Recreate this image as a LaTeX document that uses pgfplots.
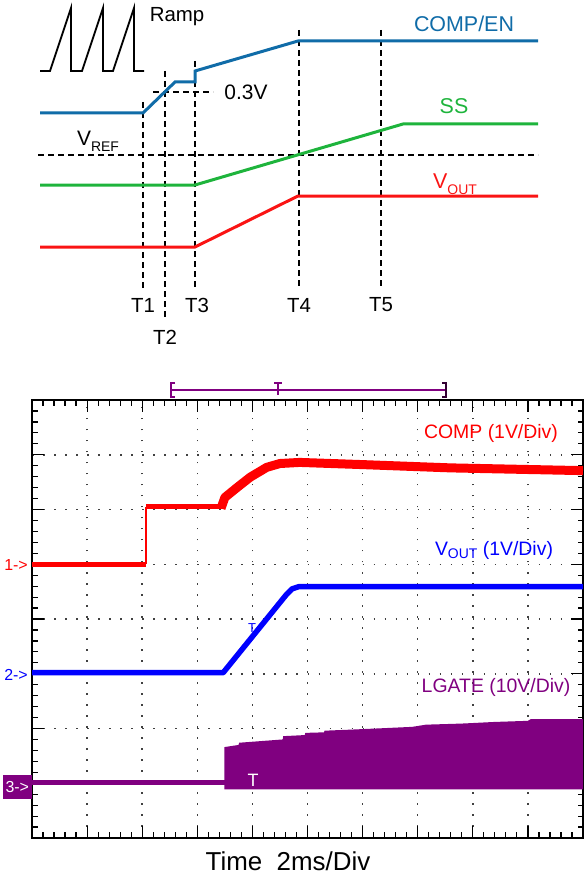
\documentclass[border=0pt]{standalone}
\usepackage{pgfplots}
\pgfplotsset{compat=1.18}
\usepackage{fontspec}
\setmainfont{Liberation Sans}
\definecolor{tblue}{RGB}{16,108,168}
\definecolor{tgreen}{RGB}{30,180,60}
\definecolor{tred}{RGB}{250,20,20}
\definecolor{spurple}{RGB}{128,0,128}
\definecolor{sred}{RGB}{255,0,0}
\definecolor{sblue}{RGB}{0,0,255}
\newcommand{\fs}[1]{\fontsize{#1}{#1}\selectfont}
\newcommand{\sub}[1]{\raisebox{-0.28em}{\fs{14}#1}}
\begin{document}
\begin{tikzpicture}
\useasboundingbox (0,0) rectangle (584bp,875bp);
% ---------------- oscilloscope capture ----------------
\begin{axis}[at={(32bp,37bp)}, anchor=south west, scale only axis,
  width=551bp, height=438bp, xmin=0, xmax=10, ymin=0, ymax=8,
  xtick={0,...,10}, ytick={0,...,8}, minor x tick num=4, minor y tick num=4,
  xticklabels={}, yticklabels={}, tick align=inside,
  major tick length=12bp, minor tick length=5.5bp,
  every tick/.style={black, line width=1.2bp},
  axis line style={line width=1.6bp},
  grid=major,
  major grid style={black!75, line width=1.5bp, dash pattern=on 1.5bp off 9.52bp}]
% COMP (red)
\addplot[sred, line width=5bp] coordinates {(0,5.0)(2.07,5.0)};
\addplot[sred, line width=1.5bp] coordinates {(2.07,5.0)(2.07,6.05)};
\addplot[sred, line width=5bp] coordinates {(2.07,6.05)(3.45,6.05)};
\addplot[sred, line width=9bp, line join=round] coordinates {(3.43,6.02)(3.50,6.22)(3.72,6.40)(3.96,6.59)(4.26,6.77)(4.50,6.84)(4.86,6.86)(6.0,6.82)(7.6,6.76)(10,6.71)};
% VOUT (blue)
\addplot[sblue, line width=5.5bp, line join=round] coordinates {(0,3.02)(3.47,3.02)(4.62,4.45)(4.72,4.55)(4.84,4.59)(10,4.59)};
% LGATE (purple)
\addplot[spurple, line width=5bp] coordinates {(0,1.02)(3.50,1.02)};
\addplot[fill=spurple, draw=none] coordinates {(3.49,0.89)(3.49,1.66)(3.75,1.70)(3.76,1.74)(4.55,1.80)(4.56,1.86)(4.95,1.88)(4.96,1.92)(5.30,1.93)(5.31,1.96)(5.80,1.98)(6.25,2.00)(6.90,2.03)(7.15,2.07)(7.80,2.09)(8.40,2.12)(9.00,2.14)(9.05,2.17)(10,2.17)(10,0.89)} -- cycle;
\end{axis}
% ---------------- overlay in pixel coordinates ----------------
\begin{axis}[at={(0,0)}, anchor=south west, scale only axis,
  width=584bp, height=875bp, xmin=0, xmax=584, ymin=0, ymax=875,
  y dir=reverse, hide axis, clip=false]
% ramp symbol
\addplot[black, line width=1.8bp] coordinates {(40,71)(50,71)(71,8)(71,71)(82,71)(103,8)(103,71)(113,71)(134,8)(134,71)(144,71)};
% dashed guides
\addplot[black, line width=1.8bp, dash pattern=on 6bp off 4bp] coordinates {(38,155)(538,155)};
\addplot[black, line width=1.8bp, dash pattern=on 6bp off 4bp] coordinates {(153,92)(213,92)};
\addplot[black, line width=1.8bp, dash pattern=on 6bp off 4bp] coordinates {(143,102)(143,288)};
\addplot[black, line width=1.8bp, dash pattern=on 6bp off 4bp] coordinates {(165,71)(165,320)};
\addplot[black, line width=1.8bp, dash pattern=on 6bp off 4bp] coordinates {(195,61)(195,288)};
\addplot[black, line width=1.8bp, dash pattern=on 6bp off 4bp] coordinates {(299,30)(299,288)};
\addplot[black, line width=1.8bp, dash pattern=on 6bp off 4bp] coordinates {(381,30)(381,288)};
% timing waveforms
\addplot[tblue, line width=3bp] coordinates {(40,113)(143,113)(175,82)(195,82)(195,71)(298,41)(538,41)};
\addplot[tgreen, line width=3bp] coordinates {(40,185)(195,185)(403,124)(538,124)};
\addplot[tred, line width=3bp] coordinates {(40,247)(195,247)(298,196)(538,196)};
% texts of the timing diagram
\node[font=\fs{20.5}] at (axis cs:177,17) {Ramp};
\node[font=\fs{21}] at (axis cs:246,92) {0.3V};
\node[font=\fs{21}] at (axis cs:98,141) {V\sub{REF}};
\node[font=\fs{21.5}, text=tblue] at (axis cs:464,24) {COMP/EN};
\node[font=\fs{21.5}, text=tgreen] at (axis cs:454,106) {SS};
\node[font=\fs{21.5}, text=tred] at (axis cs:455,184) {V\sub{OUT}};
\node[font=\fs{20.5}] at (axis cs:143,305) {T1};
\node[font=\fs{20.5}] at (axis cs:165,337) {T2};
\node[font=\fs{20.5}] at (axis cs:197,305) {T3};
\node[font=\fs{20.5}] at (axis cs:299,305) {T4};
\node[font=\fs{20.5}] at (axis cs:381,305) {T5};
% trigger bracket
\addplot[spurple, line width=1.3bp] coordinates {(171,390)(446,390)};
\addplot[spurple, line width=1.5bp] coordinates {(175,383)(171,383)(171,397)(175,397)};
\addplot[black!60!spurple, line width=1.8bp] coordinates {(442,383)(446,383)(446,397)(442,397)};
\addplot[spurple, line width=1.3bp] coordinates {(274,383)(282,383)};
\addplot[spurple, line width=1.3bp] coordinates {(278,383)(278,395)};
% scope labels
\node[font=\fs{19.5}, text=sred] at (axis cs:491,433) {COMP (1V/Div)};
\node[font=\fs{19.5}, text=sblue] at (axis cs:494,550) {V\raisebox{-0.2em}{\fs{14}OUT} (1V/Div)};
\node[font=\fs{19.5}, text=spurple] at (axis cs:496,687) {LGATE (10V/Div)};
\node[font=\fs{26}] at (axis cs:288,861) {Time\ \ 2ms/Div};
% channel markers
\node[font=\fs{16}, text=sred] at (axis cs:16,565) {1->};
\node[font=\fs{16}, text=sblue] at (axis cs:16,675) {2->};
\node[font=\fs{16}, text=white, fill=spurple, minimum width=29bp, minimum height=24bp, inner sep=0pt] at (axis cs:17.3,787) {3->};
\node[font=\fs{13}, text=sblue] at (axis cs:252,628) {T};
\node[font=\fs{18}, text=white] at (axis cs:253,780) {T};
\end{axis}
\end{tikzpicture}
\end{document}
